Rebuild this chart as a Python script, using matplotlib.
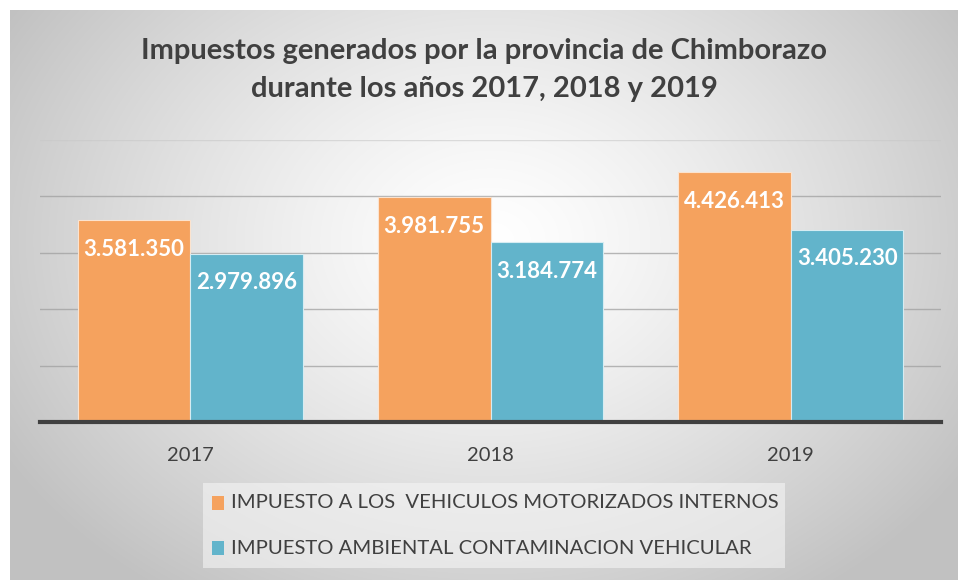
import numpy as np
import matplotlib.pyplot as plt
from matplotlib.patches import Rectangle

years = ["2017", "2018", "2019"]
vehiculos = [3581350, 3981755, 4426413]
ambiental = [2979896, 3184774, 3405230]
series_names = ["IMPUESTO A LOS  VEHICULOS MOTORIZADOS INTERNOS",
                "IMPUESTO AMBIENTAL CONTAMINACION VEHICULAR"]
title = "Impuestos generados por la provincia de Chimborazo\ndurante los años 2017, 2018 y 2019"

orange = "#F5A25E"
blue = "#62B4CB"
W, H = 958, 580

plt.rcParams['font.family'] = ['Lato', 'DejaVu Sans']

fig = plt.figure(figsize=(W / 100, H / 100), dpi=100)

# radial gradient background of the chart frame
bg = fig.add_axes([10 / W, 0, 1 - 10 / W, 1 - 10 / H])
yy, xx = np.mgrid[0:570, 0:948]
r = np.hypot((xx - 480) / 560.0, (yy - 230) / 430.0)
shade = np.clip(1.0 - 0.24 * r ** 1.3, 0.76, 1.0)
bg.imshow(np.dstack([shade] * 3), aspect="auto", extent=(0, 1, 0, 1), origin="upper")
bg.axis("off")

ax = fig.add_axes([40 / W, 1 - 422 / H, 901 / W, 282 / H])
ax.patch.set_alpha(0)
x = np.arange(len(years))
w = 0.375
b1 = ax.bar(x - w / 2, vehiculos, w, color=orange, edgecolor="#fbe3cf", linewidth=0.8, zorder=3)
b2 = ax.bar(x + w / 2, ambiental, w, color=blue, edgecolor="#d6ecf2", linewidth=0.8, zorder=3)
ax.set_xlim(-0.5, 2.5)
ax.set_ylim(0, 5000000)
ax.set_yticks([1000000, 2000000, 3000000, 4000000])
ax.yaxis.grid(True, color="#a0a0a0", linewidth=1.0, alpha=0.75, zorder=1)
ax.axhline(5000000, color="#c8c8c8", linewidth=1.0, alpha=0.6, zorder=1)
ax.tick_params(axis="y", left=False, labelleft=False)
ax.tick_params(axis="x", length=0, pad=18, labelsize=14.5, labelcolor="#404040")
ax.set_xticks(x)
ax.set_xticklabels(years)
for s in ["top", "right", "left"]:
    ax.spines[s].set_visible(False)
ax.spines["bottom"].set_color("#404040")
ax.spines["bottom"].set_linewidth(3)
ax.spines["bottom"].set_zorder(4)

def fmt(v):
    return f"{v:,}".replace(",", ".")

for bars, vals in [(b1, vehiculos), (b2, ambiental)]:
    for bar, v in zip(bars, vals):
        ax.annotate(fmt(v), (bar.get_x() + bar.get_width() / 2, v),
                    xytext=(0, -29), textcoords="offset pixels",
                    ha="center", va="center", color="white",
                    fontsize=16, fontweight="bold", zorder=5)

fig.text(484 / W, 1 - 70 / H, title, ha="center", va="center",
         fontsize=21, fontweight="bold", color="#404040", linespacing=1.55)

# legend box
fig.patches.append(Rectangle((203 / W, 1 - 568 / H), 582 / W, 85 / H,
                             transform=fig.transFigure, facecolor="#f5f5f5",
                             alpha=0.6, edgecolor="none", zorder=1))
for i, (name, c) in enumerate(zip(series_names, [orange, blue])):
    yc = 503 + 45 * i
    fig.patches.append(Rectangle((212 / W, 1 - (yc + 7) / H), 12 / W, 14 / H,
                                 transform=fig.transFigure, facecolor=c,
                                 edgecolor="none", zorder=2))
    fig.text(231 / W, 1 - yc / H, name, ha="left", va="center",
             fontsize=14.6, color="#404040", zorder=3)

fig.savefig("out.png", dpi=100)
